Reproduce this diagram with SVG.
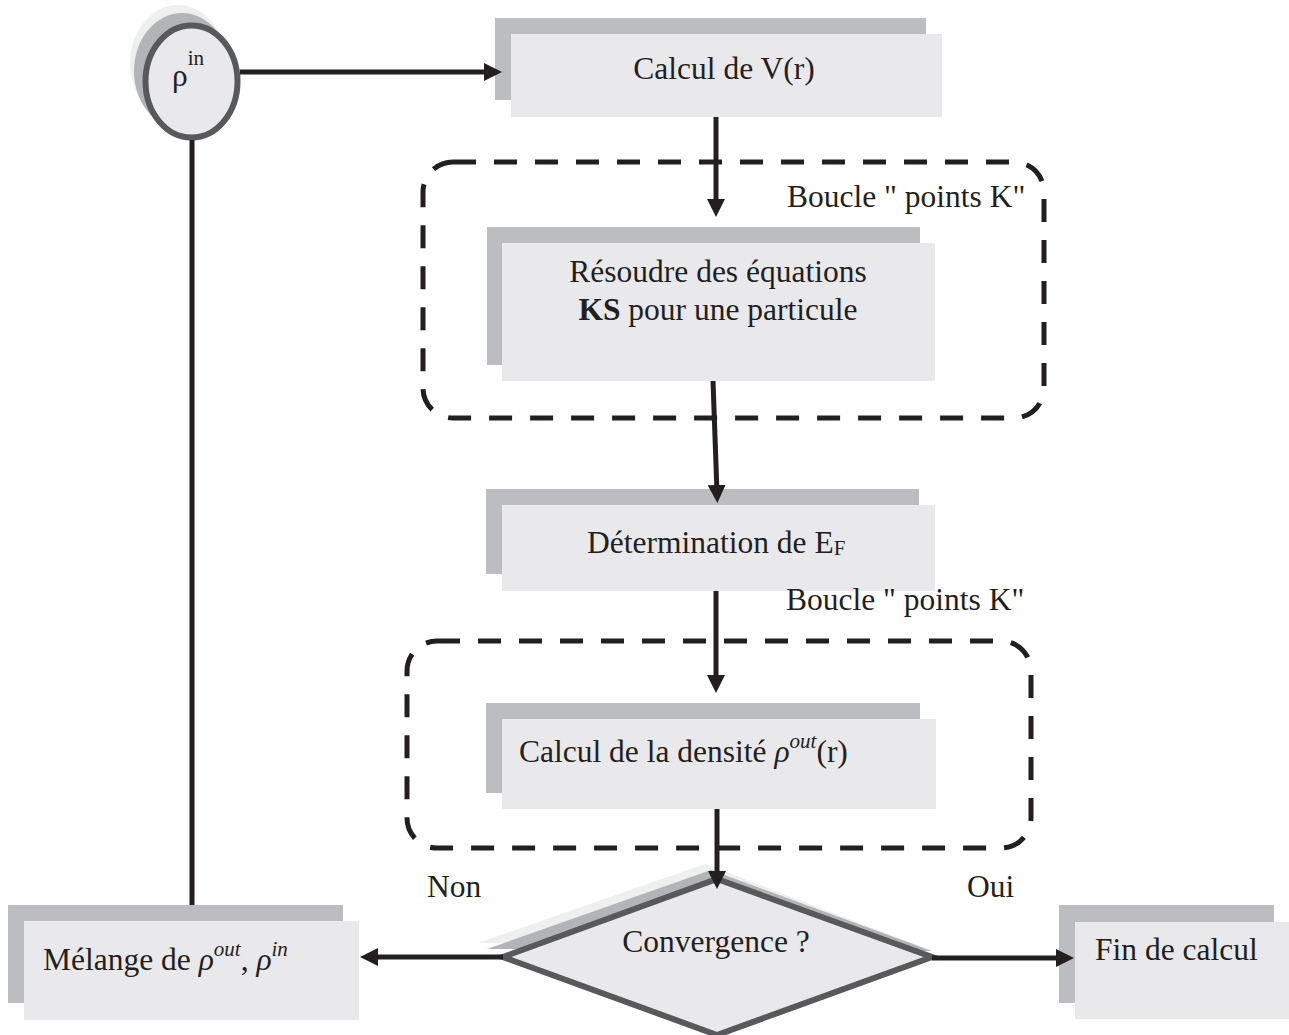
<svg xmlns="http://www.w3.org/2000/svg" width="1289" height="1035" viewBox="0 0 1289 1035">
<style>
text{font-family:"Liberation Serif","Times New Roman",serif;font-size:31.5px;fill:#231f20}
.sh{fill:#bcbdc0}
.fr{fill:#e9e9eb}
.sup{font-size:21px}
.it{font-style:italic}
.loop{fill:none;stroke:#231f20;stroke-width:5;stroke-dasharray:23 18}
.ln{fill:none;stroke:#231f20;stroke-width:5}
.out{stroke:#58595b;stroke-width:6;fill:#e9e9eb}
</style>
<defs>
<marker id="ah" markerUnits="userSpaceOnUse" markerWidth="18" markerHeight="18" refX="8" refY="9" orient="auto">
<path d="M0,0 L18,9 L0,18 z" fill="#231f20"/>
</marker>
</defs>
<g id="loop1"><rect class="loop" x="423" y="162" width="621" height="256" rx="30"/></g>
<g id="loop2"><rect class="loop" x="407" y="641" width="624" height="207" rx="30"/></g>
<g id="rho-in">
<ellipse cx="178" cy="63" rx="48" ry="58" fill="#eef0ef"/>
<ellipse cx="182" cy="71" rx="48" ry="58" fill="#b3b4b7"/>
<ellipse class="out" cx="191.5" cy="81.5" rx="46" ry="56"/>
<text x="172" y="86" font-size="35">ρ<tspan class="sup" dy="-21">in</tspan></text>
</g>
<g id="calcul-v">
<rect class="sh" x="495" y="18" width="431" height="82"/>
<rect class="fr" x="511" y="34" width="431" height="83"/>
<text x="724" y="79" text-anchor="middle">Calcul de V(r)</text>
</g>
<g id="resoudre">
<rect class="sh" x="487" y="227" width="433" height="138"/>
<rect class="fr" x="502" y="243" width="433" height="138"/>
<text x="718" y="282" text-anchor="middle">Résoudre des équations</text>
<text x="718" y="320" text-anchor="middle"><tspan font-weight="bold">KS</tspan> pour une particule</text>
</g>
<g id="fermi">
<rect class="sh" x="486" y="489" width="433" height="85"/>
<rect class="fr" x="502" y="505" width="433" height="86"/>
<text x="587" y="553">Détermination de E<tspan class="sup" dy="2">F</tspan></text>
</g>
<g id="densite">
<rect class="sh" x="486" y="703" width="434" height="90"/>
<rect class="fr" x="502" y="719" width="434" height="90"/>
<text x="519" y="762">Calcul de la densité <tspan class="it">ρ</tspan><tspan class="sup it" dy="-14">out</tspan><tspan dy="14">(r)</tspan></text>
</g>
<g id="convergence">
<polygon points="478,943 705,864 930,950" fill="#eef0ef"/>
<polygon points="487,949 711,870 932,951" fill="#b3b4b7"/>
<polygon class="out" points="717,879 932,957 717,1035 503,957"/>
<text x="716" y="952" text-anchor="middle">Convergence ?</text>
</g>
<g id="melange">
<rect class="sh" x="8" y="905" width="335" height="98"/>
<rect class="fr" x="24" y="921" width="335" height="99"/>
<text x="43" y="970">Mélange de <tspan class="it">ρ</tspan><tspan class="sup it" dy="-14">out</tspan><tspan dy="14">, </tspan><tspan class="it">ρ</tspan><tspan class="sup it" dy="-14">in</tspan></text>
</g>
<g id="fin">
<rect class="sh" x="1059" y="905" width="215" height="98"/>
<rect class="fr" x="1075" y="922" width="215" height="97"/>
<text x="1095" y="960">Fin de calcul</text>
</g>
<g id="labels">
<text x="787" y="207">Boucle " points K"</text>
<text x="786" y="610">Boucle " points K"</text>
<text x="427" y="897">Non</text>
<text x="967" y="897">Oui</text>
</g>
<g id="connectors">
<line class="ln" x1="240" y1="72" x2="492" y2="72" marker-end="url(#ah)"/>
<line class="ln" x1="716" y1="117" x2="716" y2="207" marker-end="url(#ah)"/>
<line class="ln" x1="713" y1="381" x2="717" y2="493" marker-end="url(#ah)"/>
<line class="ln" x1="716" y1="591" x2="716" y2="683" marker-end="url(#ah)"/>
<line class="ln" x1="717" y1="809" x2="717" y2="879" marker-end="url(#ah)"/>
<line class="ln" x1="503" y1="957" x2="370" y2="957" marker-end="url(#ah)"/>
<line class="ln" x1="932" y1="958" x2="1064" y2="958" marker-end="url(#ah)"/>
<line class="ln" x1="192" y1="140" x2="192" y2="905"/>
</g>
</svg>
